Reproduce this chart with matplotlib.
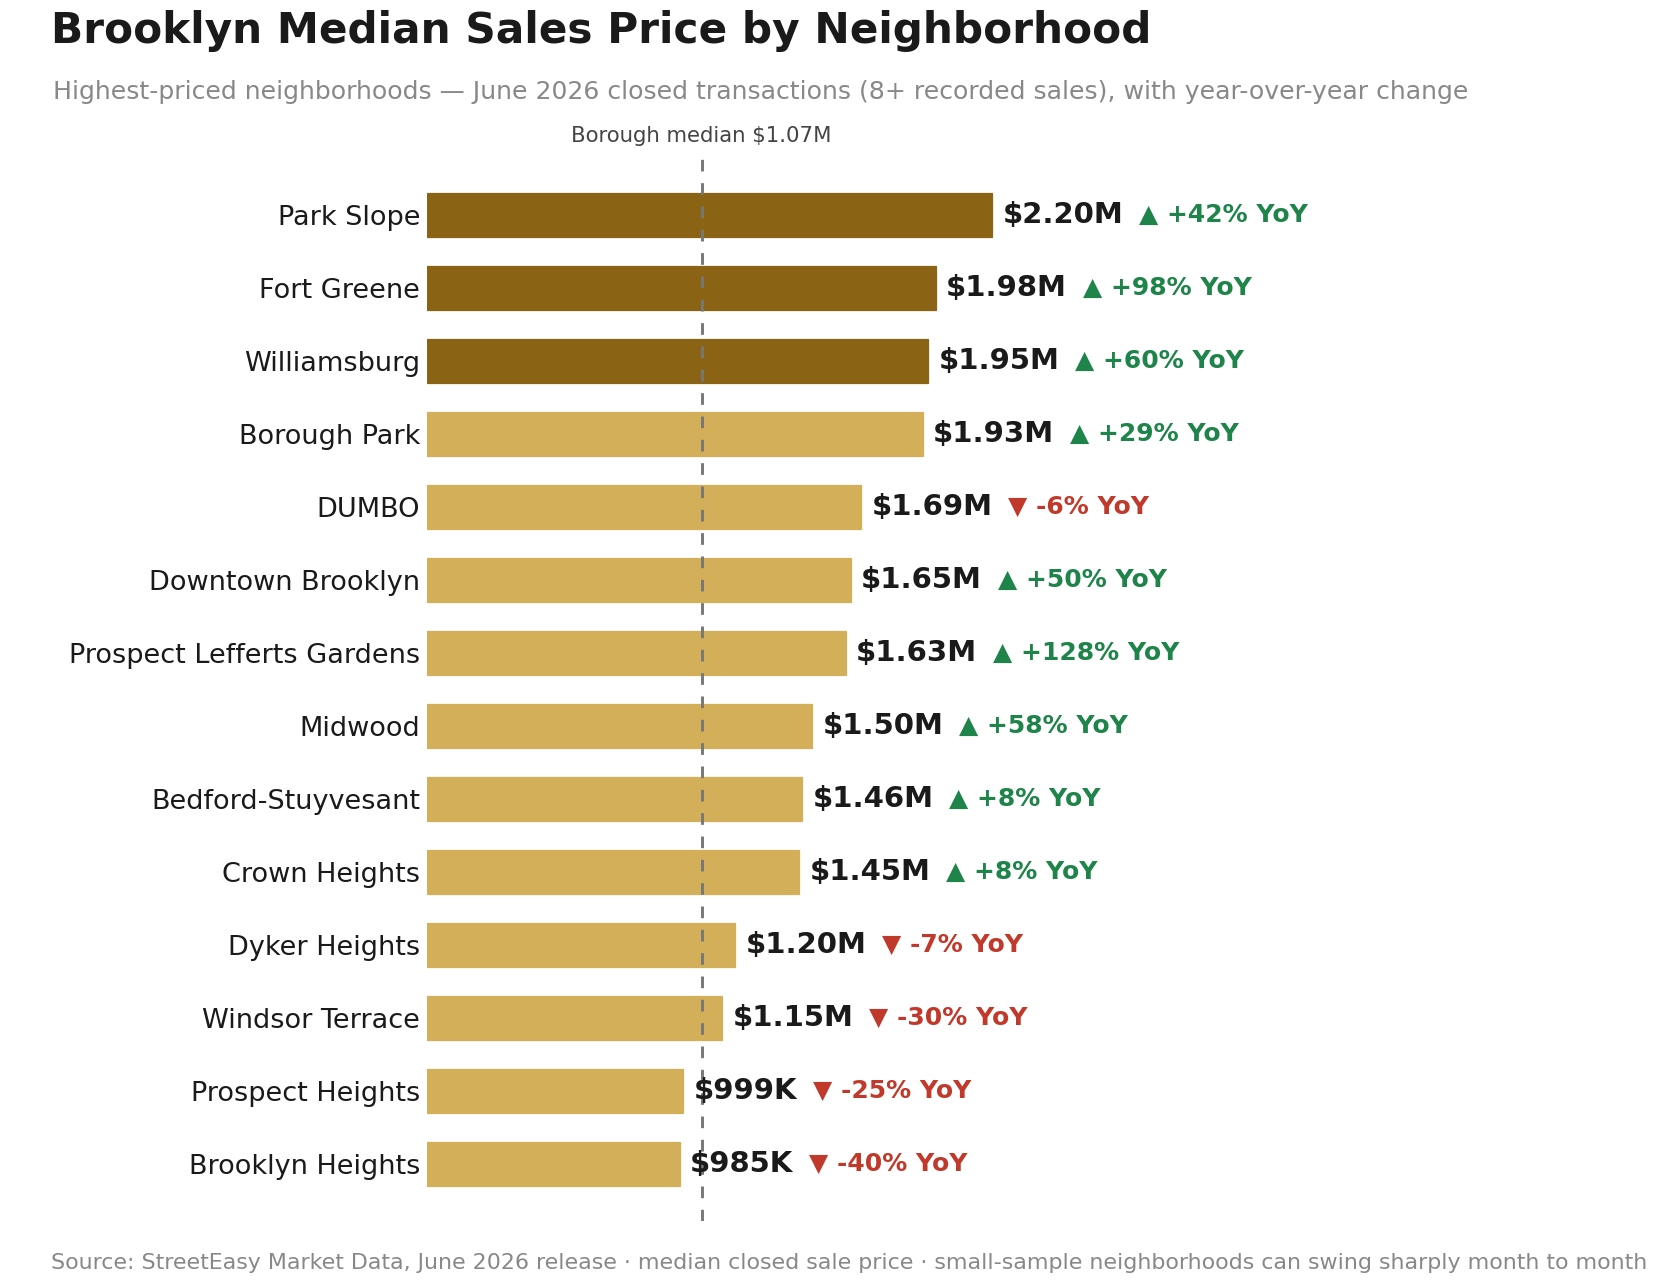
import matplotlib
matplotlib.use("Agg")
import matplotlib.pyplot as plt

# data
neighborhoods = ["Park Slope", "Fort Greene", "Williamsburg", "Borough Park", "DUMBO",
                 "Downtown Brooklyn", "Prospect Lefferts Gardens", "Midwood",
                 "Bedford-Stuyvesant", "Crown Heights", "Dyker Heights",
                 "Windsor Terrace", "Prospect Heights", "Brooklyn Heights"]
prices = [2.20, 1.98, 1.95, 1.93, 1.69, 1.65, 1.63, 1.50, 1.46, 1.45, 1.20, 1.15, 0.999, 0.985]
price_labels = ["$2.20M", "$1.98M", "$1.95M", "$1.93M", "$1.69M", "$1.65M", "$1.63M",
                "$1.50M", "$1.46M", "$1.45M", "$1.20M", "$1.15M", "$999K", "$985K"]
yoy = [42, 98, 60, 29, -6, 50, 128, 58, 8, 8, -7, -30, -25, -40]
borough_median = 1.07
n_top = 3

W, H, DPI = 1676, 1288, 150
fig = plt.figure(figsize=(W / DPI, H / DPI), dpi=DPI)
fig.patch.set_facecolor("white")

# axes placed in pixel coords
left, right, top, bottom = 426.5, 1275, 158, 1221
ax = fig.add_axes([left / W, 1 - bottom / H, (right - left) / W, (bottom - top) / H])

dark = "#8A6414"
light = "#D4AF5A"
colors = [dark if i < n_top else light for i in range(len(prices))]
ypos = list(range(len(prices)))
ax.barh(ypos, prices, height=0.61, color=colors, edgecolor=colors, linewidth=0.6, zorder=2)

ax.set_xlim(0, 3.3)
ax.set_ylim(len(prices) - 1 + 0.78, -0.78)
ax.set_yticks(ypos)
ax.set_yticklabels(neighborhoods, fontsize=13, color="#1a1a1a")
ax.tick_params(axis="y", length=0, pad=3)
ax.set_xticks([])
for s in ax.spines.values():
    s.set_visible(False)

ax.axvline(borough_median, color="#777777", linestyle=(0, (4, 4)), linewidth=1.4, zorder=3)
ax.text(borough_median, -0.78 - 0.17, "Borough median $1.07M", ha="center", va="bottom",
        fontsize=10.2, color="#444444", clip_on=False)

fig.canvas.draw()
renderer = fig.canvas.get_renderer()
for i, (p, lab, ch) in enumerate(zip(prices, price_labels, yoy)):
    t = ax.annotate(lab, (p, i), xytext=(5, 0), textcoords="offset points",
                    ha="left", va="center", fontsize=14, fontweight="bold",
                    color="#1a1a1a", zorder=4, annotation_clip=False)
    bb = t.get_window_extent(renderer)
    w_pts = bb.width * 72 / DPI
    if ch >= 0:
        s, c = "\u25B2 +%d%% YoY" % ch, "#1E8449"
    else:
        s, c = "\u25BC %d%% YoY" % ch, "#C0392B"
    ax.annotate(s, (p, i), xytext=(5 + w_pts + 7.5, 0), textcoords="offset points",
                ha="left", va="center", fontsize=12, fontweight="bold",
                color=c, zorder=4, annotation_clip=False)

fig.text(51 / W, 1 - 31 / H, "Brooklyn Median Sales Price by Neighborhood",
         fontsize=20.3, fontweight="bold", color="#1a1a1a", va="center", ha="left")
fig.text(53 / W, 1 - 92 / H,
         "Highest-priced neighborhoods \u2014 June 2026 closed transactions (8+ recorded sales), with year-over-year change",
         fontsize=12.05, color="#888888", va="center", ha="left")
fig.text(51 / W, 1 - 1263 / H,
         "Source: StreetEasy Market Data, June 2026 release \u00b7 median closed sale price \u00b7 small-sample neighborhoods can swing sharply month to month",
         fontsize=10.6, color="#888888", va="center", ha="left")

fig.savefig("out.png", dpi=DPI, facecolor="white")
